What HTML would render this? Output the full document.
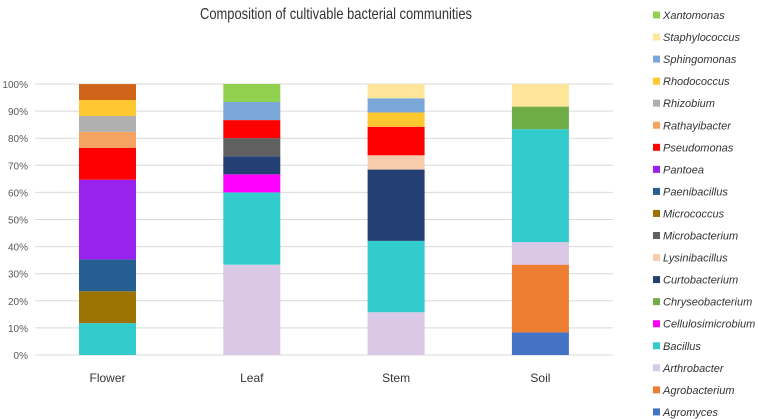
<!DOCTYPE html>
<html><head><meta charset="utf-8"><style>
html,body{margin:0;padding:0;background:#fff;}
svg{display:block;font-family:"Liberation Sans",sans-serif;}
</style></head><body>
<svg id="chart" width="758" height="419">
<text x="336" y="19" text-anchor="middle" font-size="16" fill="#333" textLength="272" lengthAdjust="spacingAndGlyphs">Composition of cultivable bacterial communities</text>
<g id="grid"></g><g id="bars"></g><g id="xlab"></g><g id="legend"></g>
</svg>
<script>
const categories = ["Flower","Leaf","Stem","Soil"];
const seriesNames = ["Agromyces","Agrobacterium","Arthrobacter","Bacillus","Cellulosimicrobium","Chryseobacterium","Curtobacterium","Lysinibacillus","Microbacterium","Micrococcus","Paenibacillus","Pantoea","Pseudomonas","Rathayibacter","Rhizobium","Rhodococcus","Sphingomonas","Staphylococcus","Xantomonas","Other"];
const seriesColors = ["#4472C4","#ED7D31","#D9C8E6","#33CCCC","#FF00FF","#70AD47","#243F73","#F8CBAD","#606060","#9C7300","#255E91","#9A22EE","#FF0000","#F4A460","#B0B0B0","#FFC830","#7BA7D8","#FFE699","#92D050","#D06418"];
const valuesFlower = [0,0,0,11.76,0,0,0,0,0,11.76,11.76,29.41,11.76,5.88,5.88,5.88,0,0,0,5.88];
const valuesLeaf   = [0,0,33.33,26.67,6.67,0,6.67,0,6.67,0,0,0,6.67,0,0,0,6.67,0,6.67,0];
const valuesStem   = [0,0,15.79,26.32,0,0,26.32,5.26,0,0,0,0,10.53,0,0,5.26,5.26,5.26,0,0];
const valuesSoil   = [8.33,25,8.33,41.67,0,8.33,0,0,0,0,0,0,0,0,0,0,0,8.33,0,0];
const yTicks = [0,10,20,30,40,50,60,70,80,90,100];
const NS="http://www.w3.org/2000/svg";
const allValues=[valuesFlower,valuesLeaf,valuesStem,valuesSoil];
const y0=355,y1=84,x0=35,x1=613;
function yScale(p){return y0-(p/100)*(y0-y1);}
function xCenter(i){return 107.5+i*144.3;}
const barW=57;
function mk(tag,attrs,parent){const e=document.createElementNS(NS,tag);for(const k in attrs)e.setAttribute(k,attrs[k]);parent.appendChild(e);return e;}
const grid=document.getElementById('grid');
yTicks.forEach(t=>{
  const y=yScale(t);
  const l=mk('line',{x1:x0,x2:x1,y1:y,y2:y,stroke:'#d9d9d9','stroke-width':1},grid);
  
  
  const tx=mk('text',{x:28,y:y+4,'text-anchor':'end','font-size':10,fill:'#595959'},grid);
  tx.textContent=t+'%';
  
  
});
const bars=document.getElementById('bars');
categories.forEach((c,i)=>{
  let acc=0;
  allValues[i].forEach((v,s)=>{
    if(v<=0)return;
    const r=mk('rect',{x:xCenter(i)-barW/2,y:yScale(acc+v),width:barW,height:yScale(acc)-yScale(acc+v),fill:seriesColors[s]},bars);
    
    
    acc+=v;
  });
  const t=mk('text',{x:xCenter(i),y:382,'text-anchor':'middle','font-size':12,fill:'#333'},document.getElementById('xlab'));
  t.textContent=c;
  
  
});
const leg=document.getElementById('legend');
const order=[18,17,16,15,14,13,12,11,10,9,8,7,6,5,4,3,2,1,0];
order.forEach((s,k)=>{
  const y=15+k*22.05;
  const g=mk('g',{},leg);
  
  
  mk('rect',{x:653,y:y-3.5,width:7,height:7,fill:seriesColors[s]},g);
  const t=mk('text',{x:663,y:y+4,'font-size':11,'font-style':'italic',fill:'#333'},g);
  t.textContent=seriesNames[s];
});
</script>
</body></html>
